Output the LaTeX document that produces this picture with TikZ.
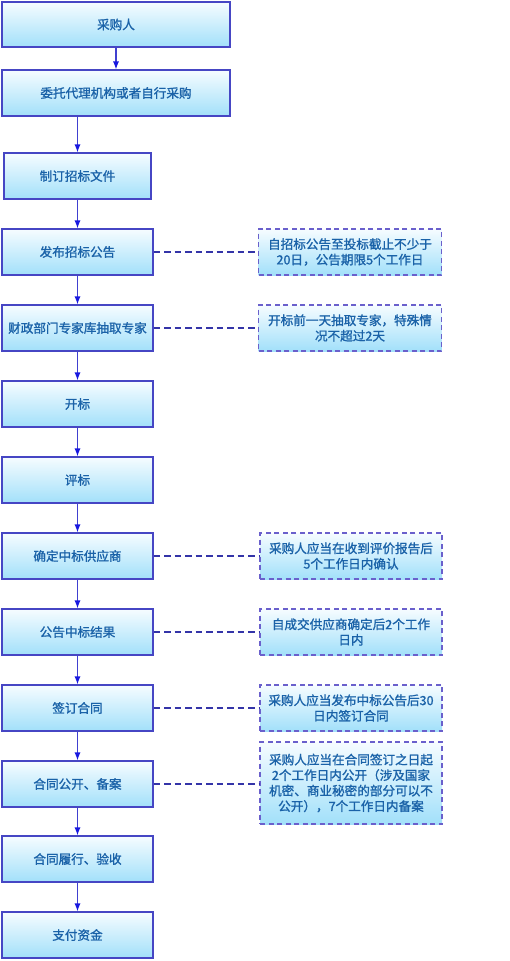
\documentclass[tikz,border=0pt]{standalone}
\usepackage{fontspec}
\newfontfamily\cjk[FakeBold=1.3]{Noto Sans CJK SC}
\usetikzlibrary{arrows.meta}
\definecolor{txtc}{HTML}{1A62A8}
\definecolor{bordc}{HTML}{4646C4}
\definecolor{notebord}{HTML}{6A60CC}
\definecolor{topc}{HTML}{F6FCFF}
\definecolor{botc}{HTML}{A2E0FA}
\definecolor{arrc}{HTML}{4040D0}
\definecolor{headc}{HTML}{1818E0}
\definecolor{dashc}{HTML}{3434A8}
\tikzset{
  stepbox/.style={draw=bordc, line width=1.1pt, top color=topc, bottom color=botc,
    minimum height=46pt, text=txtc, font=\cjk\fontsize{12.6}{15.5}\selectfont,
    inner sep=0pt, align=center},
  notebox/.style={draw=notebord, line width=1.2pt, dash pattern=on 5pt off 3.5pt,
    top color=topc, bottom color=botc, minimum width=183pt, text width=180pt,
    text=txtc, font=\cjk\fontsize{12.6}{15.5}\selectfont, inner sep=0pt, align=center},
  flow/.style={draw=arrc, line width=1.1pt, -{Latex[length=8pt,width=6pt,fill=headc,color=headc]}},
  link/.style={draw=dashc, line width=1.1pt, dash pattern=on 6.5pt off 4pt},
}
\begin{document}
\begin{tikzpicture}[x=1pt,y=-1pt]
\useasboundingbox (0,0) rectangle (509,961);
\node[stepbox, minimum width=228pt, minimum height=45pt] (b1) at (116,24.5) {采购人};
\node[stepbox, minimum width=228pt] (b2) at (116,93) {委托代理机构或者自行采购};
\node[stepbox, minimum width=147pt] (b3) at (77.5,176) {制订招标文件};
\node[stepbox, minimum width=151pt] (b4) at (77.5,252) {发布招标公告};
\node[stepbox, minimum width=151pt] (b5) at (77.5,328) {财政部门专家库抽取专家};
\node[stepbox, minimum width=151pt] (b6) at (77.5,404) {开标};
\node[stepbox, minimum width=151pt] (b7) at (77.5,480) {评标};
\node[stepbox, minimum width=151pt] (b8) at (77.5,556) {确定中标供应商};
\node[stepbox, minimum width=151pt] (b9) at (77.5,632) {公告中标结果};
\node[stepbox, minimum width=151pt] (b10) at (77.5,708) {签订合同};
\node[stepbox, minimum width=151pt] (b11) at (77.5,784) {合同公开、备案};
\node[stepbox, minimum width=151pt] (b12) at (77.5,859) {合同履行、验收};
\node[stepbox, minimum width=151pt] (b13) at (77.5,935) {支付资金};

\node[notebox, minimum height=46pt] (n1) at (350,252) {自招标公告至投标截止不少于\\20日，公告期限5个工作日};
\node[notebox, minimum height=46pt] (n2) at (350,328) {开标前一天抽取专家，特殊情\\况不超过2天};
\node[notebox, minimum height=46pt, minimum width=182pt] (n3) at (351,556) {采购人应当在收到评价报告后\\5个工作日内确认};
\node[notebox, minimum height=46pt, minimum width=182pt] (n4) at (351,632) {自成交供应商确定后2个工作\\日内};
\node[notebox, minimum height=46pt, minimum width=182pt] (n5) at (351,708) {采购人应当发布中标公告后30\\日内签订合同};
\node[notebox, minimum height=82pt, minimum width=182pt] (n6) at (351,783) {采购人应当在合同签订之日起\\2个工作日内公开（涉及国家\\机密、商业秘密的部分可以不\\公开），7个工作日内备案};

\draw[flow] (b1) -- (b2);
\draw[flow] (b3.north |- b2.south) -- (b3.north);
\draw[flow] (b3) -- (b4);
\draw[flow] (b4) -- (b5);
\draw[flow] (b5) -- (b6);
\draw[flow] (b6) -- (b7);
\draw[flow] (b7) -- (b8);
\draw[flow] (b8) -- (b9);
\draw[flow] (b9) -- (b10);
\draw[flow] (b10) -- (b11);
\draw[flow] (b11) -- (b12);
\draw[flow] (b12) -- (b13);

\draw[link] (b4.east) -- (n1.west);
\draw[link] (b5.east) -- (n2.west);
\draw[link] (b8.east) -- (n3.west);
\draw[link] (b9.east) -- (n4.west);
\draw[link] (b10.east) -- (n5.west);
\draw[link] (b11.east) -- (b11.east -| n6.west);
\end{tikzpicture}
\end{document}
